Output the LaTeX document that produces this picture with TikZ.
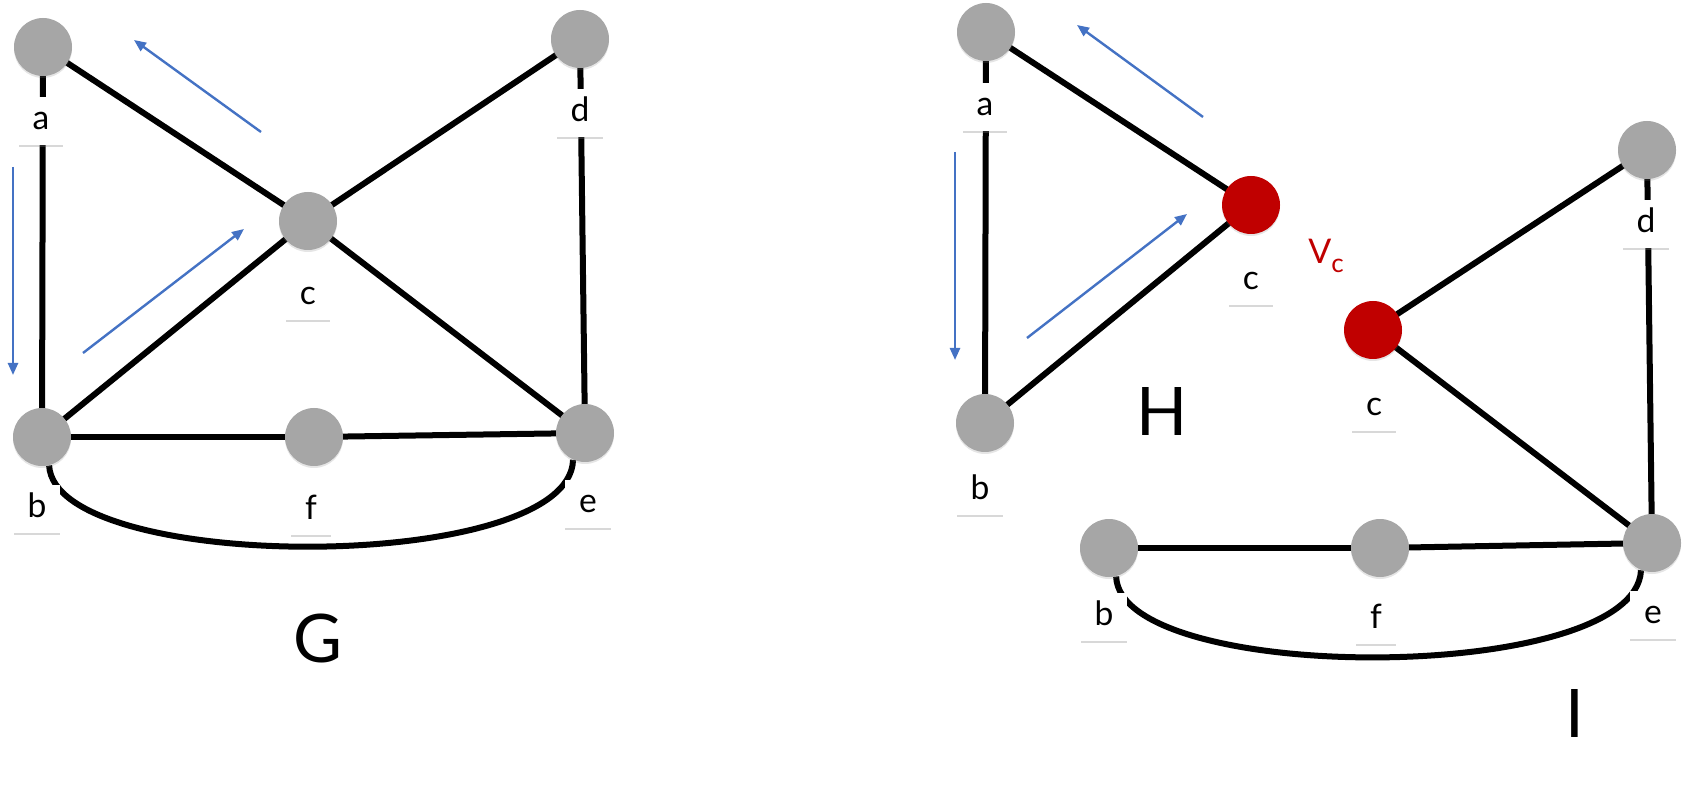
\documentclass[tikz,border=0pt]{standalone}
\usepackage{fontspec}
\setmainfont{Lato}
\usetikzlibrary{arrows.meta,shadows}
\definecolor{ngray}{RGB}{166,166,166}
\definecolor{vred}{RGB}{192,0,0}
\definecolor{arrblue}{RGB}{68,114,196}
\pgfdeclarelayer{bg}
\pgfdeclarelayer{paper}
\pgfsetlayers{paper,bg,main}
\begin{document}
\begin{tikzpicture}[x=0.5pt,y=-0.5pt,
  vtx/.style={circle,fill=ngray,minimum size=29pt,inner sep=0pt,
    drop shadow={shadow xshift=0pt,shadow yshift=-1pt,opacity=0.2}},
  rvtx/.style={vtx,fill=vred},
  lbl/.style={fill=white,inner xsep=7pt,inner ysep=0pt,minimum height=24pt,
    text height=8.5pt,text depth=0pt,font=\fontsize{16.8}{18}\selectfont,
    drop shadow={shadow xshift=0pt,shadow yshift=-1.2pt,opacity=0.3}},
  edge/.style={line width=3pt,black},
  walk/.style={arrblue,line width=1.2pt,-{Triangle[length=6pt,width=5pt]}},
  gname/.style={font=\fontsize{33.5}{36}\selectfont,inner sep=0pt}
]
\useasboundingbox (0,0) rectangle (1690,790);
\begin{pgfonlayer}{paper}
\fill[white] (0,0) rectangle (1690,790);
\end{pgfonlayer}

% ---------- G ----------
\node[vtx] (ga) at (43,47) {};
\node[vtx] (gd) at (580,39) {};
\node[vtx] (gc) at (308,221) {};
\node[vtx] (gb) at (42,437) {};
\node[vtx] (gf) at (314,437) {};
\node[vtx] (ge) at (585,433) {};

\node[lbl] (gla) at (41,121) {a};
\node[lbl] (gld) at (580,113) {d};
\node[lbl] (glc) at (308,296) {c};
\node[lbl] (glb) at (37,509) {b};
\node[lbl] (glf) at (311,511) {f};
\node[lbl] (gle) at (588,504) {e};

\node[gname] (gG) at (318,638) {G};

\begin{pgfonlayer}{bg}
\draw[edge] (ga.center) -- (gb.center);
\draw[edge] (ga.center) -- (gc.center);
\draw[edge] (gc.center) -- (gd.center);
\draw[edge] (gc.center) -- (gb.center);
\draw[edge] (gc.center) -- (ge.center);
\draw[edge] (gd.center) -- (ge.center);
\draw[edge] (gb.center) -- (gf.center);
\draw[edge] (gf.center) -- (ge.center);
\draw[edge] (gb.-76) .. controls +(6,109) and +(-3,115) .. (ge.-114);
\end{pgfonlayer}

\coordinate (gw1s) at (261,132); \coordinate (gw1e) at (134,40);
\coordinate (gw2s) at (13,167);  \coordinate (gw2e) at (13,375);
\coordinate (gw3s) at (83,353);  \coordinate (gw3e) at (244,229);
\draw[walk] (gw1s) -- (gw1e);
\draw[walk] (gw2s) -- (gw2e);
\draw[walk] (gw3s) -- (gw3e);

% ---------- H ----------
\node[vtx] (ha) at (986,32) {};
\node[rvtx] (hc) at (1251,205) {};
\node[vtx] (hb) at (985,423) {};

\node[lbl] (hla) at (985,107) {a};
\node[lbl] (hlc) at (1251,281) {c};
\node[lbl] (hlb) at (980,491) {b};

\node[gname] (hH) at (1162,411) {H};
\node[anchor=base west,inner sep=0pt,text=vred] (vc) at (1308,264)
  {\fontsize{17}{18}\selectfont V\raisebox{-4.5pt}{\fontsize{13}{14}\selectfont c}};

\begin{pgfonlayer}{bg}
\draw[edge] (ha.center) -- (hb.center);
\draw[edge] (ha.center) -- (hc.center);
\draw[edge] (hc.center) -- (hb.center);
\end{pgfonlayer}

\coordinate (hw1s) at (1203,117); \coordinate (hw1e) at (1077,25);
\coordinate (hw2s) at (955,152);  \coordinate (hw2e) at (955,360);
\coordinate (hw3s) at (1027,338); \coordinate (hw3e) at (1187,214);
\draw[walk] (hw1s) -- (hw1e);
\draw[walk] (hw2s) -- (hw2e);
\draw[walk] (hw3s) -- (hw3e);

% ---------- I ----------
\node[vtx] (id) at (1647,150) {};
\node[rvtx] (ic) at (1373,330) {};
\node[vtx] (ie) at (1652,543) {};
\node[vtx] (ib) at (1109,548) {};
\node[vtx] (if) at (1380,548) {};

\node[lbl] (ild) at (1646,224) {d};
\node[lbl] (ilc) at (1374,407) {c};
\node[lbl] (ile) at (1653,615) {e};
\node[lbl] (ilb) at (1104,617) {b};
\node[lbl] (ilf) at (1376,620) {f};

\node[gname] (iI) at (1575,713) {I};

\begin{pgfonlayer}{bg}
\draw[edge] (ic.center) -- (id.center);
\draw[edge] (ic.center) -- (ie.center);
\draw[edge] (id.center) -- (ie.center);
\draw[edge] (ib.center) -- (if.center);
\draw[edge] (if.center) -- (ie.center);
\draw[edge] (ib.-76) .. controls +(4,109) and +(-5,115) .. (ie.-112);
\end{pgfonlayer}
\end{tikzpicture}
\end{document}
